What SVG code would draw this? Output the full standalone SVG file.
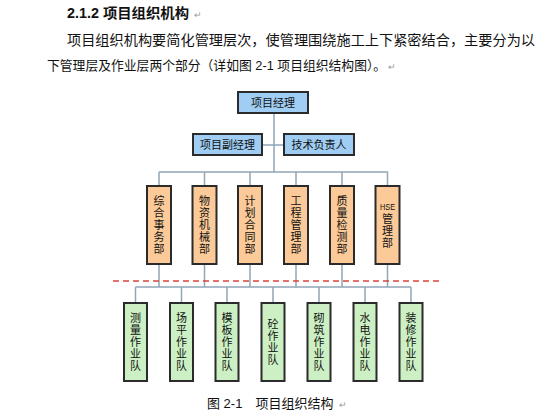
<svg xmlns="http://www.w3.org/2000/svg" width="560" height="420" viewBox="0 0 560 420">
<style>
text{font-family:"Liberation Sans","Noto Sans CJK SC",sans-serif;fill:#111}
.para{font-size:14px}
.title{font-size:14px;font-weight:bold}
.pm{font-size:9px;fill:#999;font-weight:normal}
.box{stroke:#2b2b2b;stroke-width:2}
.blue{fill:#9fcdf3}
.org{fill:#fbca98}
.grn{fill:#ccf0c4}
.lbl{font-size:11px;text-anchor:middle}
.conn{stroke:#8fa6b6;stroke-width:1.5;fill:none}
</style>
<rect width="560" height="420" fill="#fff"/>
<text class="title" x="67" y="18" textLength="122" lengthAdjust="spacingAndGlyphs">2.1.2 项目组织机构</text><text class="pm" x="194" y="18">↵</text>
<text class="para" x="67" y="45" textLength="468" lengthAdjust="spacingAndGlyphs">项目组织机构要简化管理层次，使管理围绕施工上下紧密结合，主要分为以</text>
<text class="para" x="47" y="70" style="font-size:12.8px">下管理层及作业层两个部分（详如图 2-1 项目组织结构图）。</text><text class="pm" x="388" y="70">↵</text>

<g id="connectors" class="conn">
<line x1="274" y1="113" x2="274" y2="172"/>
<line x1="262" y1="145" x2="284" y2="145"/>
<line x1="159" y1="172" x2="388" y2="172"/>
<line x1="159" y1="172" x2="159" y2="186"/>
<line x1="204.5" y1="172" x2="204.5" y2="186"/>
<line x1="250" y1="172" x2="250" y2="186"/>
<line x1="296" y1="172" x2="296" y2="186"/>
<line x1="342" y1="172" x2="342" y2="186"/>
<line x1="387.5" y1="172" x2="387.5" y2="186"/>
<line x1="159" y1="264" x2="159" y2="287"/>
<line x1="204.5" y1="264" x2="204.5" y2="287"/>
<line x1="250" y1="264" x2="250" y2="287"/>
<line x1="296" y1="264" x2="296" y2="287"/>
<line x1="342" y1="264" x2="342" y2="287"/>
<line x1="387.5" y1="264" x2="387.5" y2="287"/>
<line x1="135.5" y1="287" x2="411" y2="287"/>
<line x1="135.5" y1="287" x2="135.5" y2="303"/>
<line x1="181.5" y1="287" x2="181.5" y2="303"/>
<line x1="227" y1="287" x2="227" y2="303"/>
<line x1="273" y1="287" x2="273" y2="303"/>
<line x1="319" y1="287" x2="319" y2="303"/>
<line x1="365" y1="287" x2="365" y2="303"/>
<line x1="411" y1="287" x2="411" y2="303"/>
</g>
<line id="divider" x1="113" y1="281" x2="442" y2="281" stroke="#d9443c" stroke-width="1.5" stroke-dasharray="6,4"/>

<g id="pm"><rect class="box blue" x="238" y="92" width="70" height="21"/><text class="lbl" x="273" y="106.5">项目经理</text></g>
<g id="dpm"><rect class="box blue" x="193" y="134" width="69" height="21"/><text class="lbl" x="227.5" y="148.5">项目副经理</text></g>
<g id="tech"><rect class="box blue" x="284" y="134" width="70" height="21"/><text class="lbl" x="319" y="148.5">技术负责人</text></g>

<g id="d1"><rect class="box org" x="147" y="186" width="24" height="78"/><text class="lbl" x="159"><tspan x="159" y="205">综</tspan><tspan x="159" y="217">合</tspan><tspan x="159" y="229">事</tspan><tspan x="159" y="241">务</tspan><tspan x="159" y="253">部</tspan></text></g>
<g id="d2"><rect class="box org" x="192.5" y="186" width="24" height="78"/><text class="lbl" x="204.5"><tspan x="204.5" y="205">物</tspan><tspan x="204.5" y="217">资</tspan><tspan x="204.5" y="229">机</tspan><tspan x="204.5" y="241">械</tspan><tspan x="204.5" y="253">部</tspan></text></g>
<g id="d3"><rect class="box org" x="238" y="186" width="24" height="78"/><text class="lbl" x="250"><tspan x="250" y="205">计</tspan><tspan x="250" y="217">划</tspan><tspan x="250" y="229">合</tspan><tspan x="250" y="241">同</tspan><tspan x="250" y="253">部</tspan></text></g>
<g id="d4"><rect class="box org" x="284" y="186" width="24" height="78"/><text class="lbl" x="296"><tspan x="296" y="205">工</tspan><tspan x="296" y="217">程</tspan><tspan x="296" y="229">管</tspan><tspan x="296" y="241">理</tspan><tspan x="296" y="253">部</tspan></text></g>
<g id="d5"><rect class="box org" x="330" y="186" width="24" height="78"/><text class="lbl" x="342"><tspan x="342" y="205">质</tspan><tspan x="342" y="217">量</tspan><tspan x="342" y="229">检</tspan><tspan x="342" y="241">测</tspan><tspan x="342" y="253">部</tspan></text></g>
<g id="d6"><rect class="box org" x="375.5" y="186" width="24" height="78"/><text class="lbl" x="387.5"><tspan x="387.5" y="210" style="font-size:9px" textLength="15" lengthAdjust="spacingAndGlyphs">HSE</tspan><tspan x="387.5" y="223">管</tspan><tspan x="387.5" y="235">理</tspan><tspan x="387.5" y="247">部</tspan></text></g>

<g id="t1"><rect class="box grn" x="124" y="303" width="23" height="78"/><text class="lbl"><tspan x="135.5" y="322">测</tspan><tspan x="135.5" y="334">量</tspan><tspan x="135.5" y="346">作</tspan><tspan x="135.5" y="358">业</tspan><tspan x="135.5" y="370">队</tspan></text></g>
<g id="t2"><rect class="box grn" x="170" y="303" width="23" height="78"/><text class="lbl"><tspan x="181.5" y="322">场</tspan><tspan x="181.5" y="334">平</tspan><tspan x="181.5" y="346">作</tspan><tspan x="181.5" y="358">业</tspan><tspan x="181.5" y="370">队</tspan></text></g>
<g id="t3"><rect class="box grn" x="215.5" y="303" width="23" height="78"/><text class="lbl"><tspan x="227" y="322">模</tspan><tspan x="227" y="334">板</tspan><tspan x="227" y="346">作</tspan><tspan x="227" y="358">业</tspan><tspan x="227" y="370">队</tspan></text></g>
<g id="t4"><rect class="box grn" x="261.5" y="303" width="23" height="78"/><text class="lbl"><tspan x="273" y="328">砼</tspan><tspan x="273" y="340">作</tspan><tspan x="273" y="352">业</tspan><tspan x="273" y="364">队</tspan></text></g>
<g id="t5"><rect class="box grn" x="307.5" y="303" width="23" height="78"/><text class="lbl"><tspan x="319" y="322">砌</tspan><tspan x="319" y="334">筑</tspan><tspan x="319" y="346">作</tspan><tspan x="319" y="358">业</tspan><tspan x="319" y="370">队</tspan></text></g>
<g id="t6"><rect class="box grn" x="353.5" y="303" width="23" height="78"/><text class="lbl"><tspan x="365" y="322">水</tspan><tspan x="365" y="334">电</tspan><tspan x="365" y="346">作</tspan><tspan x="365" y="358">业</tspan><tspan x="365" y="370">队</tspan></text></g>
<g id="t7"><rect class="box grn" x="399.5" y="303" width="23" height="78"/><text class="lbl"><tspan x="411" y="322">装</tspan><tspan x="411" y="334">修</tspan><tspan x="411" y="346">作</tspan><tspan x="411" y="358">业</tspan><tspan x="411" y="370">队</tspan></text></g>

<text class="para" x="207" y="408" style="font-size:13px">图 2-1　项目组织结构</text><text class="pm" x="339" y="408">↵</text>
</svg>
